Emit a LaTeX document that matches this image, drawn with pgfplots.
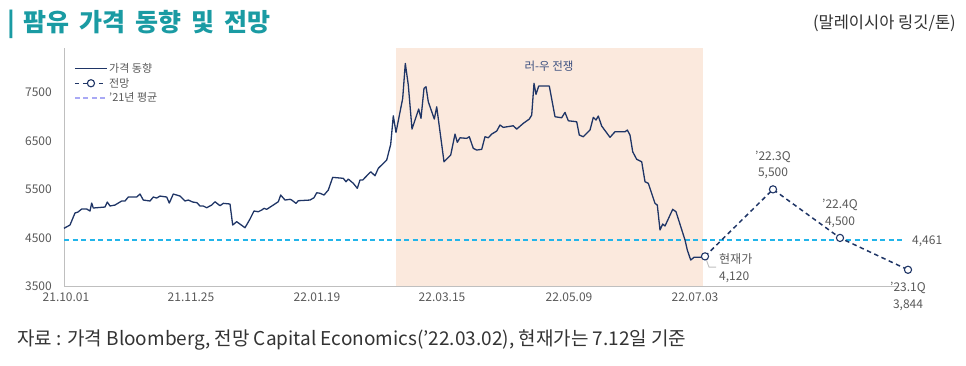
\documentclass[border=0pt]{standalone}
\usepackage{fontspec}
\setmainfont{Noto Sans CJK KR}
\usepackage{pgfplots}
\pgfplotsset{compat=1.18}
\definecolor{navy}{HTML}{1F3566}
\definecolor{teal1}{HTML}{1A9BA3}
\definecolor{peach}{HTML}{FBE9DD}
\definecolor{cyanl}{HTML}{22B5EA}
\definecolor{lav}{HTML}{A9A9F5}
\definecolor{txt}{HTML}{595959}
\definecolor{dark}{HTML}{333333}
\definecolor{axisgray}{HTML}{BFBFBF}
\definecolor{warlbl}{HTML}{3B4F7F}
\begin{document}
\begin{tikzpicture}[x=1pt,y=1pt]
\path[use as bounding box] (0,0) rectangle (966,366);
\node[anchor=west, text=teal1, font=\fontsize{25}{29}\selectfont\bfseries, inner sep=0pt] at (7,342) {|\hspace{0.35em}팜유\hspace{0.4em}가격\hspace{0.4em}동향\hspace{0.4em}및\hspace{0.4em}전망};
\node[anchor=east, text=dark, font=\fontsize{16.5}{19}\selectfont, inner sep=0pt] at (956,343) {(말레이시아 링깃/톤)};
\node[anchor=west, text=dark, font=\fontsize{19}{22}\selectfont, inner sep=0pt] at (17,26) {자료 : 가격 Bloomberg, 전망 Capital Economics(’22.03.02), 현재가는 7.12일 기준};
\begin{axis}[
  at={(64pt,79.5pt)}, anchor=south west,
  width=834pt, height=238pt, scale only axis,
  xmin=64, xmax=898, ymin=3500, ymax=8400,
  clip=false,
  axis x line*=bottom, axis y line*=left,
  axis line style={axisgray, line width=0.9pt, -},
  xtick={66,191,317,442,569,695},
  xticklabels={21.10.01,21.11.25,22.01.19,22.03.15,22.05.09,22.07.03},
  ytick={3500,4500,5500,6500,7500},
  major tick length=0pt,
  /pgf/number format/1000 sep={},
  /pgf/number format/assume math mode=true,
  tick label style={font=\fontsize{12}{14}\selectfont, text=txt},
  xticklabel style={anchor=north, inner sep=0pt, yshift=-6pt},
  yticklabel style={anchor=east, inner sep=0pt, xshift=-12pt},
  legend style={at={(axis description cs:0.012,0.945)}, anchor=north west, draw=none, fill=none,
    font=\fontsize{11}{13}\selectfont, text=txt, row sep=1pt, inner sep=0pt, nodes={inner sep=1.5pt}},
  legend cell align=left,
  legend image code/.code={\draw[mark repeat=2,mark phase=2,#1] plot coordinates {(0pt,0pt) (16pt,0pt) (32pt,0pt)};},
]
\addplot[fill=peach, draw=none, forget plot] coordinates {(396,3500) (396,8400) (703,8400) (703,3500)} -- cycle;
\addplot[cyanl, dash pattern=on 5pt off 3.5pt, line width=1.5pt, forget plot] coordinates {(64,4461) (903,4461)};
\addplot[navy, line width=1.3pt, mark=none, line join=round] coordinates {
(64,4698) (70,4766) (75,5013) (78,5033) (81.7,5095) (86.7,5095) (90,5054) (91.7,5218) (93.3,5116)
(105,5136) (107.3,5239) (110,5157) (115,5177) (121.7,5260) (125,5260) (128.3,5342) (136.7,5342)
(140,5404) (143.3,5280) (150,5260) (153.3,5342) (156.7,5321) (160,5362) (166.7,5342) (169.3,5218)
(173.3,5404) (180,5362) (185,5260) (188.3,5280) (192.7,5239) (197,5225) (200,5157) (203.3,5157)
(206.7,5122) (211.7,5177) (215,5245) (220,5163) (223.3,5212) (230,5198) (232.7,4766) (236.7,4834)
(245,4710) (250,4889) (254,5054) (258.3,5039) (261.7,5074) (264,5109) (266.7,5089) (273.3,5177)
(278.3,5245) (280.7,5383) (285,5280) (290,5295) (291.7,5280) (296,5212) (298.3,5266) (310,5280)
(314,5328) (316.7,5430) (320,5420) (324,5383) (328.3,5486) (332.7,5747) (343.3,5727) (346,5657)
(348.3,5712) (353.3,5624) (357.3,5521) (360,5692) (362.7,5692) (370.7,5863) (375,5780) (378.3,5933)
(386.7,6103) (390.7,6426) (393.3,7015) (396,6673) (402.7,7373) (405.3,8093) (408.3,7647) (412,6741)
(418.7,7153) (421,6962) (424,7579) (426,7612) (428.3,7303) (434.3,6947) (436.7,7200) (444,6068)
(450.7,6206) (455,6638) (457.3,6468) (460,6562) (466.7,6550) (469.3,6583) (473.3,6344) (476.7,6309)
(481.7,6324) (485,6583) (488.3,6562) (491.7,6638) (496.7,6700) (500,6824) (503.3,6776) (513.3,6809)
(516.7,6741) (523.3,6859) (529.3,6947) (531.7,7029) (534,7682) (536,7455) (538.7,7626) (549.3,7626)
(555,6995) (561.7,6974) (565,7085) (568.3,6912) (576.7,6892) (579.3,6618) (583.3,6583) (590,6721)
(593.3,6982) (596,6927) (598.3,7009) (601.7,6803) (610,6571) (615,6686) (625,6686) (627.3,6721)
(630,6618) (632.7,6274) (636.7,6118) (641.7,6068) (645,5657) (648.3,5624) (655,5212) (657.3,5177)
(660,4663) (662.7,4786) (665,4745) (672.7,5089) (676,5039) (685,4457) (687.3,4251) (690.7,4045)
(694,4101) (701.7,4101) (705,4120)
};
\addlegendentry{가격 동향}
\addplot[navy, dash pattern=on 4.5pt off 3.5pt, line width=1.5pt, mark=*, mark size=3.6pt,
  mark options={solid, fill=white, draw=navy, line width=1.1pt}]
  coordinates {(705,4120) (773,5500) (840,4500) (908,3844)};
\addlegendentry{전망}
\addlegendimage{lav, dash pattern=on 5pt off 3.5pt, line width=1.5pt}
\addlegendentry{’21년 평균}
\addplot[axisgray, line width=0.9pt, forget plot] coordinates {(706.5,4040) (709,3900) (716,3900)};
\end{axis}
\begin{scope}[every node/.style={font=\fontsize{12}{14}\selectfont, text=txt, inner sep=0pt}]
\node at (773,209) {’22.3Q};
\node at (773,193) {5,500};
\node at (840,161) {’22.4Q};
\node at (840,144) {4,500};
\node[anchor=west] at (719,107) {현재가};
\node[anchor=west] at (719,89) {4,120};
\node[anchor=west] at (912,125) {4,461};
\node at (908,78) {’23.1Q};
\node at (908,61) {3,844};
\node[text=warlbl, font=\fontsize{11.5}{14}\selectfont] at (549,300) {러-우 전쟁};
\end{scope}
\end{tikzpicture}
\end{document}
